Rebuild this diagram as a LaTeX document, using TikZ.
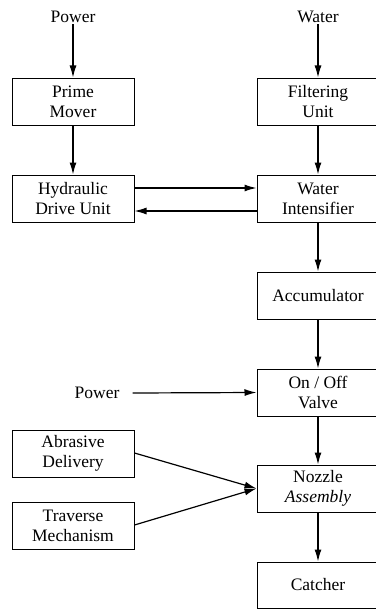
\documentclass[tikz,border=0pt]{standalone}
\usepackage{fontspec}
\setmainfont{Liberation Serif}
\usetikzlibrary{arrows.meta}
\begin{document}
\begin{tikzpicture}[x=1pt,y=-1pt,
 box/.style={draw, line width=1pt, minimum width=122pt, minimum height=47pt, align=center, inner sep=0pt, font=\fontsize{17.5}{20}\selectfont},
 lbl/.style={font=\fontsize{17.5}{20}\selectfont, inner sep=1pt},
 arr/.style={-{Latex[length=12pt,width=7pt]}, line width=1.2pt}]
\useasboundingbox (0,0) rectangle (375,610);
\node[lbl] (pw1) at (73,17) {Power};
\node[lbl] (wat) at (318,17) {Water};
\node[box] (pm) at (73,101.5) {Prime\\Mover};
\node[box] (fu) at (318,101.5) {Filtering\\Unit};
\node[box] (hd) at (73,198.5) {Hydraulic\\Drive Unit};
\node[box] (wi) at (318,198.5) {Water\\Intensifier};
\node[box] (acc) at (318,295.5) {Accumulator};
\node[box] (val) at (318,392.5) {On / Off\\Valve};
\node[lbl] (pw2) at (97,393) {Power};
\node[box] (ab) at (73,453.5) {Abrasive\\Delivery};
\node[box] (tr) at (73,526) {Traverse\\Mechanism};
\node[box] (noz) at (318,488.5) {Nozzle\\\textit{Assembly}};
\node[box, minimum height=46pt] (cat) at (318,585) {Catcher};
\draw[arr] (pw1) -- (pm);
\draw[arr] (wat) -- (fu);
\draw[arr] (pm) -- (hd);
\draw[arr] (fu) -- (wi);
\draw[arr] ([yshift=10.5pt]hd.east) -- ([yshift=10.5pt]wi.west);
\draw[arr] ([yshift=-12.5pt]wi.west) -- ([yshift=-12.5pt]hd.east);
\draw[arr] (wi) -- (acc);
\draw[arr] (acc) -- (val);
\draw[arr] ([xshift=12pt]pw2.east) -- (val.west);
\draw[arr] (val) -- (noz);
\draw[arr] ([yshift=0.5pt]ab.east) -- (noz.west);
\draw[arr] ([yshift=1pt]tr.east) -- (noz.west);
\draw[arr] (noz) -- (cat);
\end{tikzpicture}
\end{document}
